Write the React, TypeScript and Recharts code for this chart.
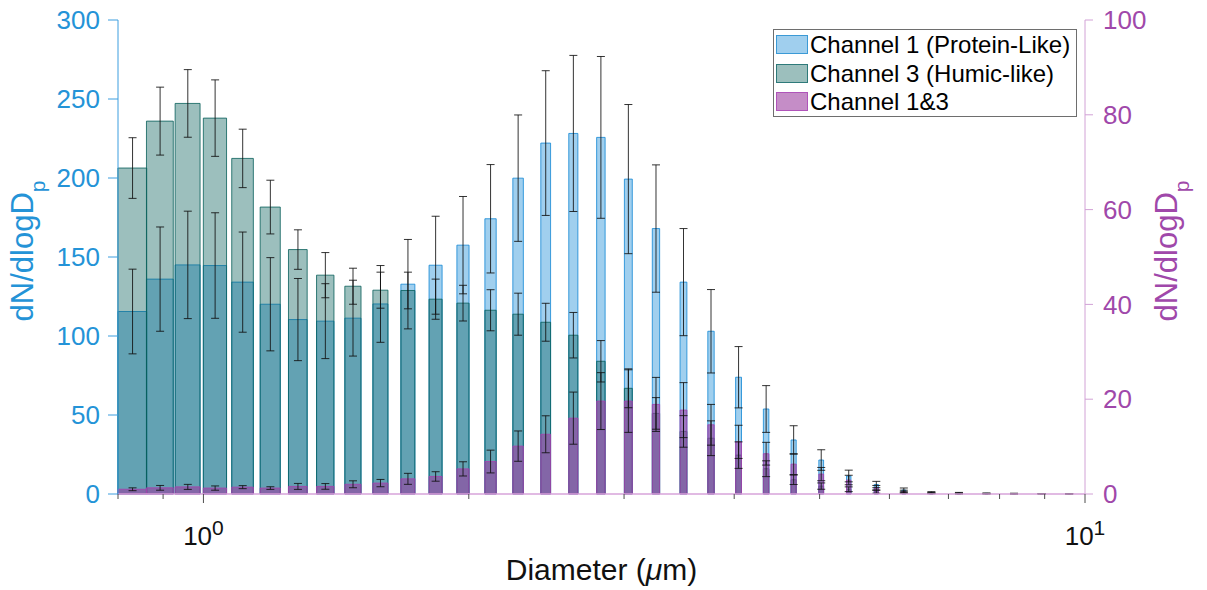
import React from 'react';
import { ComposedChart, XAxis, YAxis, ReferenceArea, Scatter, ErrorBar } from 'recharts';

// ---------- data ----------
const diameters = [0.831, 0.893, 0.96, 1.031, 1.108, 1.191, 1.28, 1.375, 1.478, 1.588, 1.706, 1.834, 1.97, 2.117, 2.275, 2.445, 2.628, 2.824, 3.034, 3.261, 3.504, 3.765, 4.046, 4.348, 4.672, 5.021, 5.395, 5.798, 6.23, 6.695, 7.195, 7.731, 8.308, 8.928, 9.594];
const ch1Mean = [115.5, 136.0, 145.0, 144.6, 134.1, 120.1, 110.4, 109.4, 111.3, 120.3, 132.8, 144.8, 157.5, 174.2, 199.9, 222.1, 228.2, 225.7, 199.3, 168.0, 134.1, 103.0, 73.9, 53.8, 34.2, 21.5, 11.4, 6.0, 2.5, 1.0, 0.7, 0.4, 0.3, 0.2, 0.2];
const ch1Err = [26.8, 33.0, 34.0, 33.4, 31.7, 29.5, 26.0, 23.7, 24.0, 24.3, 28.3, 31.0, 30.8, 34.3, 40.0, 45.8, 49.4, 51.2, 47.2, 40.3, 33.9, 26.4, 19.4, 14.8, 9.0, 6.5, 3.7, 2.0, 1.3, 0.5, 0.3, 0.2, 0.2, 0.1, 0.1];
const ch3Mean = [206.3, 236.0, 247.2, 237.9, 212.4, 181.6, 154.7, 138.5, 131.5, 129.0, 128.8, 123.3, 120.8, 116.3, 113.8, 108.7, 100.5, 84.0, 66.9, 51.0, 39.6, 35.3, 24.6, 16.0, 9.0, 5.0, 3.0, 1.5, 0.8, 0.3, 0.2, 0.1, 0.1, 0.05, 0.05];
const ch3Err = [19.2, 21.5, 21.4, 24.2, 18.5, 17.0, 12.5, 14.3, 11.4, 11.4, 11.6, 12.7, 11.3, 13.0, 13.3, 12.0, 14.4, 13.1, 12.3, 10.0, 10.0, 11.0, 8.4, 5.0, 3.0, 2.0, 1.5, 1.0, 0.5, 0.2, 0.1, 0.1, 0.1, 0.05, 0.05];
const ch13Mean = [1.0, 1.3, 1.5, 1.25, 1.45, 1.25, 1.6, 1.6, 2.05, 2.3, 3.2, 3.7, 5.3, 6.85, 10.1, 12.6, 16.0, 19.6, 19.6, 18.9, 17.7, 14.6, 11.0, 8.5, 6.3, 4.2, 2.95, 1.3, 0.5, 0.2, 0.1, 0.1, 0.05, 0.05, 0.03];
const ch13Err = [0.3, 0.5, 0.53, 0.45, 0.32, 0.28, 0.63, 0.6, 0.73, 0.77, 1.16, 1.0, 1.5, 2.4, 3.2, 3.9, 5.5, 6.0, 6.6, 5.7, 5.8, 4.3, 3.5, 2.4, 2.2, 1.4, 1.0, 0.5, 0.3, 0.1, 0.1, 0.05, 0.05, 0.03, 0.03];

const xTicks = [0.8, 0.9, 1, 2, 3, 4, 5, 6, 7, 8, 9, 10];
const leftTicks = [0, 50, 100, 150, 200, 250, 300];
const rightTicks = [0, 20, 40, 60, 80, 100];
const seriesNames = ['Channel 1 (Protein-Like)', 'Channel 3 (Humic-like)', 'Channel 1&3'];

// ---------- styles ----------
const FONT = '"Liberation Sans", Arial, Helvetica, sans-serif';
const BAR_W = 0.0625; // bar width in µm (constant linear width)
const LEFT_TEXT = '#2493D7';
const LEFT_LINE = '#3C9EDF';
const RIGHT_TEXT = '#A048AA';
const RIGHT_LINE = '#D2A2D6';
const styles = [
  { fill: '#1187D4', fillOpacity: 0.4, stroke: '#1187D4', strokeOpacity: 0.8, swatch: 'rgb(160,207,238)', edge: '#3B9AD6' },
  { fill: '#085F5A', fillOpacity: 0.4, stroke: '#085F5A', strokeOpacity: 0.8, swatch: 'rgb(156,191,189)', edge: '#2E7A7A' },
  { fill: '#9B3B9F', fillOpacity: 0.58, stroke: '#A443AE', strokeOpacity: 0.85, swatch: 'rgb(197,141,199)', edge: '#B054BA' },
];

const hiddenShape = () => <g />;

const XTick = (props: any) => {
  const { x, y, payload } = props;
  const v = payload.value;
  const major = v === 1 || v === 10;
  return (
    <g>
      <line x1={x} x2={x} y1={y} y2={y + (major ? 9 : 5)} stroke="#4D4D4D" strokeWidth={1} />
      {major && (
        <text x={x} y={y + 51} textAnchor="middle" fontSize={26} fontFamily={FONT} fill="#111">
          10
          <tspan dy={-10} fontSize={21}>{v === 1 ? '0' : '1'}</tspan>
        </text>
      )}
    </g>
  );
};

const yLabel = (color: string, dx: number) => (p: any) => {
  const vb = p.viewBox;
  const cx = vb.x + dx;
  const cy = vb.y + vb.height / 2 - 6;
  return (
    <text transform={`rotate(-90 ${cx} ${cy})`} x={cx} y={cy} textAnchor="middle" fontSize={31} fontFamily={FONT} fill={color}>
      dN/dlogD
      <tspan dy={12} fontSize={21}>p</tspan>
    </text>
  );
};

const xLabel = (p: any) => {
  const vb = p.viewBox;
  return (
    <text x={vb.x + vb.width / 2} y={vb.y + 86} textAnchor="middle" fontSize={30} fontFamily={FONT} fill="#111">
      Diameter (<tspan fontStyle="italic">μ</tspan>m)
    </text>
  );
};

export default function App() {
  const rows = diameters.map((d, i) => ({
    d,
    ch1: ch1Mean[i], ch1Err: ch1Err[i],
    ch3: ch3Mean[i], ch3Err: ch3Err[i],
    ch13: ch13Mean[i], ch13Err: ch13Err[i],
  }));
  const barSets = [
    { key: 'ch1', axis: 'left' },
    { key: 'ch3', axis: 'left' },
    { key: 'ch13', axis: 'right' },
  ];

  return (
    <div style={{ position: 'absolute', left: 0, top: 0, width: 1207, height: 590, background: '#fff', fontFamily: FONT }}>
      <ComposedChart width={1207} height={590} data={rows} margin={{ top: 20, right: 0, bottom: 0, left: 0 }}>
        <XAxis
          dataKey="d"
          type="number"
          scale="log"
          domain={[0.8, 10]}
          allowDataOverflow
          ticks={xTicks}
          interval={0}
          height={96}
          tickSize={0}
          tickMargin={0}
          tickLine={false}
          tick={<XTick />}
          axisLine={{ stroke: '#D7A3DA', strokeWidth: 1.5 }}
          label={{ content: xLabel }}
        />
        <YAxis
          yAxisId="left"
          orientation="left"
          type="number"
          domain={[0, 300]}
          allowDataOverflow
          ticks={leftTicks}
          interval={0}
          width={118}
          tickSize={10}
          tickMargin={8}
          tickLine={{ stroke: LEFT_LINE }}
          axisLine={{ stroke: LEFT_LINE }}
          tick={{ fill: LEFT_TEXT, fontSize: 26, fontFamily: FONT }}
          label={{ content: yLabel(LEFT_TEXT, 33) }}
        />
        <YAxis
          yAxisId="right"
          orientation="right"
          type="number"
          domain={[0, 100]}
          allowDataOverflow
          ticks={rightTicks}
          interval={0}
          width={122}
          tickSize={8}
          tickMargin={10}
          tickLine={{ stroke: RIGHT_LINE }}
          axisLine={{ stroke: RIGHT_LINE }}
          tick={{ fill: RIGHT_TEXT, fontSize: 26, fontFamily: FONT }}
          label={{ content: yLabel(RIGHT_TEXT, 92) }}
        />

        {barSets.map((s, si) =>
          rows.map((r: any) => (
            <ReferenceArea
              key={s.key + '-' + r.d}
              yAxisId={s.axis}
              x1={r.d - BAR_W / 2}
              x2={r.d + BAR_W / 2}
              y1={0}
              y2={r[s.key]}
              ifOverflow="visible"
              fill={styles[si].fill}
              fillOpacity={styles[si].fillOpacity}
              stroke={styles[si].stroke}
              strokeOpacity={styles[si].strokeOpacity}
              strokeWidth={1}
            />
          ))
        )}

        {barSets.map((s) => (
          <Scatter
            key={'err-' + s.key}
            data={rows}
            dataKey={s.key}
            yAxisId={s.axis}
            shape={hiddenShape}
            isAnimationActive={false}
            legendType="none"
          >
            <ErrorBar dataKey={s.key + 'Err'} direction="y" width={4} stroke="#111" strokeWidth={1} strokeOpacity={0.85} isAnimationActive={false} />
          </Scatter>
        ))}
      </ComposedChart>

      <div
        style={{
          position: 'absolute', left: 773, top: 29, width: 304, height: 88,
          border: '1px solid #6E6E6E', background: '#fff', boxSizing: 'border-box',
        }}
      >
        {seriesNames.map((name, i) => (
          <div
            key={name}
            style={{ position: 'absolute', left: 2, top: 5 + i * 28.65, height: 19, display: 'flex', alignItems: 'center' }}
          >
            <div style={{ width: 32, height: 19, boxSizing: 'border-box', background: styles[i].swatch, border: `1.5px solid ${styles[i].edge}` }} />
            <span style={{ marginLeft: 2, fontSize: 24, lineHeight: '19px', color: '#000', whiteSpace: 'nowrap', fontFamily: FONT }}>{name}</span>
          </div>
        ))}
      </div>
    </div>
  );
}
